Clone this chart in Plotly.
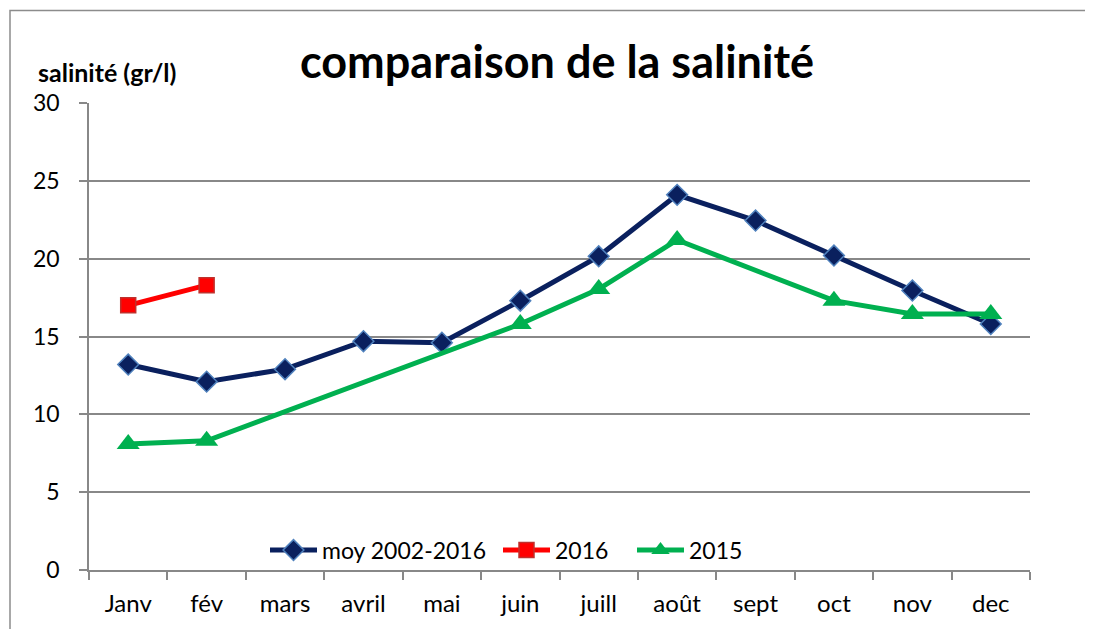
import plotly.graph_objects as go

months = ["Janv", "fév", "mars", "avril", "mai", "juin", "juill", "août", "sept", "oct", "nov", "dec"]
moy_2002_2016 = [13.2, 12.1, 12.9, 14.7, 14.6, 17.3, 20.15, 24.1, 22.45, 20.2, 17.95, 15.8]
sal_2016 = [17.0, 18.3, None, None, None, None, None, None, None, None, None, None]
sal_2015 = [8.1, 8.3, None, None, None, 15.8, 18.05, 21.2, None, 17.3, 16.45, 16.45]
y_ticks = [0, 5, 10, 15, 20, 25, 30]

# page body has an 8px margin: screen coords = figure coords + 8
OFF = 8
W, H = 1093 - OFF, 629 - OFF
L, R, T, B = 89, 1030, 103, 572          # plot area in screen coords
pw, ph = R - L, B - T

def px(x):
    return (x - L) / pw

def py(y):
    return (B - y) / ph

FONT = "Lato"

fig = go.Figure()
fig.add_trace(go.Scatter(
    x=months, y=moy_2002_2016, name="moy 2002-2016", mode="lines+markers", legend="legend",
    line=dict(color="#0a205e", width=5),
    marker=dict(symbol="diamond", size=16, color="#0a205e", line=dict(color="#4f81bd", width=1.5)),
))
fig.add_trace(go.Scatter(
    x=months, y=sal_2016, name="2016", mode="lines+markers", legend="legend2",
    line=dict(color="#ff0000", width=5),
    marker=dict(symbol="square", size=15, color="#ff0000", line=dict(color="#c0302c", width=1.5)),
))
fig.add_trace(go.Scatter(
    x=months, y=sal_2015, name="2015", mode="lines+markers", connectgaps=True, legend="legend3",
    line=dict(color="#00b050", width=5),
    marker=dict(symbol="triangle-up", size=20, color="#00b050", line=dict(color="#00b050", width=0)),
))

def leg(x):
    return dict(orientation="h", x=px(x), xanchor="left", y=py(552), yanchor="middle",
                bgcolor="rgba(0,0,0,0)", font=dict(family=FONT, size=23),
                itemwidth=47, tracegroupgap=0)

fig.update_layout(
    width=W, height=H,
    margin=dict(l=L - OFF, r=W - (R - OFF), t=T - OFF, b=H - (B - OFF), pad=0),
    paper_bgcolor="white", plot_bgcolor="white",
    font=dict(family=FONT, size=24, color="black"),
    title=dict(text="<b>comparaison de la salinité</b>", x=(557 - OFF) / W, xanchor="center",
               y=1 - (62 - OFF) / H, yanchor="middle", yref="container",
               font=dict(family=FONT, size=45, color="black")),
    showlegend=True,
    legend=leg(265),
    legend2=leg(498),
    legend3=leg(632),
    hovermode=False,
    xaxis=dict(
        type="category", tickson="boundaries", ticks="outside", ticklen=8,
        tickcolor="#888888", tickwidth=1.5, showline=True, linecolor="#888888", linewidth=1.5,
        showgrid=False, zeroline=False, tickfont=dict(family=FONT, size=24),
        ticklabelstandoff=11, range=[-0.5, 11.5], fixedrange=True,
    ),
    yaxis=dict(
        range=[0, 30], tickvals=y_ticks, ticks="outside", ticklen=8,
        tickcolor="#888888", tickwidth=1.5, showline=True, linecolor="#888888", linewidth=1.5,
        showgrid=True, gridcolor="#888888", gridwidth=1.5, zeroline=False,
        tickfont=dict(family=FONT, size=23), ticklabelstandoff=15, fixedrange=True,
    ),
    annotations=[dict(
        text="<b>salinité (gr/l)</b>", xref="paper", yref="paper",
        x=px(36), y=py(72), xanchor="left", yanchor="middle", showarrow=False,
        font=dict(family=FONT, size=25, color="black"),
    )],
    shapes=[dict(
        type="rect", xref="paper", yref="paper",
        x0=px(10), x1=px(1110), y0=py(650), y1=py(10),
        line=dict(color="#8c8c8c", width=1.5), fillcolor="rgba(0,0,0,0)", layer="below",
    )],
)

fig.write_html("out.html")
